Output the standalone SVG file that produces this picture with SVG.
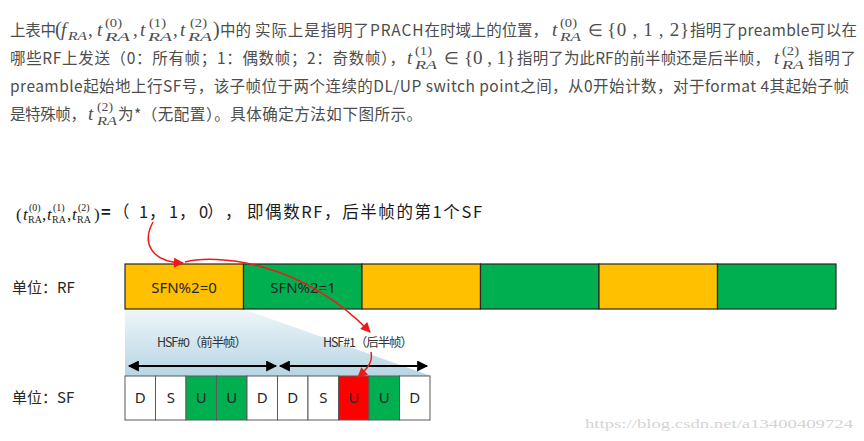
<svg xmlns="http://www.w3.org/2000/svg" width="864" height="441" viewBox="0 0 864 441">
<style>
.cn{font-family:"Noto Sans CJK SC","Noto Sans",sans-serif;font-size:15.5px;fill:#4d4d4d}
.mi{font-family:"Liberation Serif",serif;font-style:italic;fill:#4d4d4d}
.mr{font-family:"Liberation Serif",serif;fill:#4d4d4d}
.tm{font-family:"Liberation Serif",serif;fill:#1a1a1a}
.tmi{font-family:"Liberation Serif",serif;font-style:italic;fill:#1a1a1a}
.tc{font-family:"Noto Sans CJK SC","Noto Sans",sans-serif;font-size:16.5px;fill:#1a1a1a}
.lab{font-family:"Noto Sans CJK SC","Noto Sans",sans-serif;font-size:15px;fill:#262626}
.rf{stroke:#262626;stroke-width:1.2}
.sf{stroke:#5a5a5a;stroke-width:1}
.sft{font-family:"Noto Sans","Noto Sans CJK SC",sans-serif;font-size:15px;fill:#262626;text-anchor:middle}
.hsf{font-family:"Noto Sans CJK SC","Noto Sans",sans-serif;font-size:12.5px;fill:#333}
.red{fill:none;stroke:#f01818;stroke-width:1.5}
.blk{stroke:#000;stroke-width:2}
.y{fill:#FFC000}.g{fill:#00B050}.w{fill:#fff}.r{fill:#FF0000}
</style>
<defs>
<linearGradient id="sh" x1="0" y1="0" x2="0" y2="1">
<stop offset="0" stop-color="#eef6fa"/>
<stop offset="1" stop-color="#b7d5e3"/>
</linearGradient>
<marker id="ra" viewBox="0 0 10 10" refX="9" refY="5" markerWidth="12" markerHeight="10" markerUnits="userSpaceOnUse" orient="auto"><path d="M0,0 L10,5 L0,10 z" fill="#f01818"/></marker>
<marker id="ba" viewBox="0 0 10 10" refX="9" refY="5" markerWidth="13" markerHeight="11" markerUnits="userSpaceOnUse" orient="auto-start-reverse"><path d="M0,0 L10,5 L0,10 z" fill="#000"/></marker>
</defs>
<rect width="864" height="441" fill="#fff"/>

<g id="paragraph">
<text class="cn" x="10" y="36" textLength="46">上表中</text>
<text class="mr" x="55" y="36" font-size="20">(</text>
<text class="mi" x="61" y="36" font-size="19">f</text>
<text class="mi" x="68" y="40" font-size="13" textLength="19" lengthAdjust="spacingAndGlyphs">RA</text>
<text class="mr" x="88" y="36" font-size="19">,</text>
<text class="mi" x="97" y="36" font-size="19">t</text>
<text class="mr" x="105" y="27" font-size="12" textLength="17" lengthAdjust="spacingAndGlyphs">(0)</text>
<text class="mi" x="105" y="41" font-size="13" textLength="25" lengthAdjust="spacingAndGlyphs">RA</text>
<text class="mr" x="133" y="36" font-size="19">,</text>
<text class="mi" x="140" y="36" font-size="19">t</text>
<text class="mr" x="149" y="27" font-size="12" textLength="17" lengthAdjust="spacingAndGlyphs">(1)</text>
<text class="mi" x="148" y="41" font-size="13" textLength="24" lengthAdjust="spacingAndGlyphs">RA</text>
<text class="mr" x="173" y="36" font-size="19">,</text>
<text class="mi" x="180" y="36" font-size="19">t</text>
<text class="mr" x="190" y="27" font-size="12" textLength="17" lengthAdjust="spacingAndGlyphs">(2)</text>
<text class="mi" x="188" y="41" font-size="13" textLength="24" lengthAdjust="spacingAndGlyphs">RA</text>
<text class="mr" x="213" y="36" font-size="20">)</text>
<text class="cn" x="220" y="36" textLength="31">中的</text>
<text class="cn" x="255" y="36" textLength="185">实际上是指明了PRACH在</text>
<text class="cn" x="440" y="36" textLength="108">时域上的位置，</text>
<text class="mi" x="552" y="36" font-size="19">t</text>
<text class="mr" x="560" y="27" font-size="12" textLength="17" lengthAdjust="spacingAndGlyphs">(0)</text>
<text class="mi" x="560" y="41" font-size="13" textLength="21" lengthAdjust="spacingAndGlyphs">RA</text>
<text class="mr" x="588" y="36" font-size="17">∈</text>
<text class="mr" x="607" y="36" font-size="19" textLength="82">{0 , 1 , 2}</text>
<text class="cn" x="690" y="36" textLength="167">指明了preamble可以在</text>

<text class="cn" x="10" y="64" textLength="395">哪些RF上发送（0：所有帧；1：偶数帧；2：奇数帧），</text>
<text class="mi" x="407" y="64" font-size="19">t</text>
<text class="mr" x="415" y="55" font-size="12" textLength="17" lengthAdjust="spacingAndGlyphs">(1)</text>
<text class="mi" x="415" y="69" font-size="13" textLength="22" lengthAdjust="spacingAndGlyphs">RA</text>
<text class="mr" x="444" y="64" font-size="17">∈</text>
<text class="mr" x="464" y="64" font-size="19" textLength="51">{0 , 1}</text>
<text class="cn" x="517" y="64" textLength="253">指明了为此RF的前半帧还是后半帧，</text>
<text class="mi" x="774" y="64" font-size="19">t</text>
<text class="mr" x="782" y="55" font-size="12" textLength="17" lengthAdjust="spacingAndGlyphs">(2)</text>
<text class="mi" x="782" y="69" font-size="13" textLength="22" lengthAdjust="spacingAndGlyphs">RA</text>
<text class="cn" x="808" y="64" textLength="48">指明了</text>

<text class="cn" x="10" y="92" textLength="839">preamble起始地上行SF号，该子帧位于两个连续的DL/UP switch point之间，从0开始计数，对于format 4其起始子帧</text>

<text class="cn" x="10" y="120" textLength="76">是特殊帧，</text>
<text class="mi" x="88" y="120" font-size="19">t</text>
<text class="mr" x="97" y="111" font-size="12" textLength="16" lengthAdjust="spacingAndGlyphs">(2)</text>
<text class="mi" x="97" y="125" font-size="13" textLength="20" lengthAdjust="spacingAndGlyphs">RA</text>
<text class="cn" x="118" y="120" textLength="304">为*（无配置）。具体确定方法如下图所示。</text>
</g>

<g id="title">
<text class="tm" x="16" y="220" font-size="17">(</text>
<text class="tmi" x="23" y="220" font-size="17">t</text>
<text class="tm" x="29" y="211" font-size="10">(0)</text>
<text class="tm" x="28" y="223" font-size="10">RA</text>
<text class="tm" x="42" y="220" font-size="17">,</text>
<text class="tmi" x="47" y="220" font-size="17">t</text>
<text class="tm" x="53" y="211" font-size="10">(1)</text>
<text class="tm" x="52" y="223" font-size="10">RA</text>
<text class="tm" x="67" y="220" font-size="17">,</text>
<text class="tmi" x="72" y="220" font-size="17">t</text>
<text class="tm" x="78" y="211" font-size="10">(2)</text>
<text class="tm" x="77" y="223" font-size="10">RA</text>
<text class="tm" x="94" y="220" font-size="17">)</text>
<text class="tc" x="101" y="218" font-weight="bold">=</text>
<text class="tc" y="218"><tspan x="113">（</tspan><tspan x="139">1</tspan><tspan x="149">，</tspan><tspan x="169">1</tspan><tspan x="179">，</tspan><tspan x="199">0</tspan><tspan x="207">）</tspan><tspan x="225">，</tspan></text>
<text class="tc" x="247" y="218" textLength="235">即偶数RF，后半帧的第1个SF</text>
</g>

<g id="unit-labels">
<text class="lab" x="12" y="293">单位：RF</text>
<text class="lab" x="12" y="403">单位：SF</text>
</g>

<polygon id="half-frame-zoom" points="125,309 243.5,309 431,376 125,376" fill="url(#sh)"/>

<g id="rf-row">
<rect id="rf0" class="rf y" x="125" y="264" width="118.5" height="45"/>
<rect id="rf1" class="rf g" x="243.5" y="264" width="118.5" height="45"/>
<rect id="rf2" class="rf y" x="362" y="264" width="118.5" height="45"/>
<rect id="rf3" class="rf g" x="480.5" y="264" width="118.5" height="45"/>
<rect id="rf4" class="rf y" x="599" y="264" width="118.5" height="45"/>
<rect id="rf5" class="rf g" x="717.5" y="264" width="118.5" height="45"/>
<text class="sft" x="184" y="293">SFN%2=0</text>
<text class="sft" x="303" y="293">SFN%2=1</text>
</g>

<g id="hsf-labels">
<text class="hsf" x="157" y="347" textLength="90">HSF#0（前半帧）</text>
<text class="hsf" x="323" y="347" textLength="90">HSF#1（后半帧）</text>
</g>

<g id="sf-row">
<rect class="sf w" x="125" y="376" width="30.5" height="44"/>
<rect class="sf w" x="155.5" y="376" width="30.5" height="44"/>
<rect class="sf g" x="186" y="376" width="30.5" height="44"/>
<rect class="sf g" x="216.5" y="376" width="30.5" height="44"/>
<rect class="sf w" x="247" y="376" width="30.5" height="44"/>
<rect class="sf w" x="277.5" y="376" width="30.5" height="44"/>
<rect class="sf w" x="308" y="376" width="30.5" height="44"/>
<rect class="sf r" x="338.5" y="376" width="30.5" height="44"/>
<rect class="sf g" x="369" y="376" width="30.5" height="44"/>
<rect class="sf w" x="399.5" y="376" width="30.5" height="44"/>
<text class="sft" x="140.25" y="403">D</text>
<text class="sft" x="170.75" y="403">S</text>
<text class="sft" x="201.25" y="403">U</text>
<text class="sft" x="231.75" y="403">U</text>
<text class="sft" x="262.25" y="403">D</text>
<text class="sft" x="292.75" y="403">D</text>
<text class="sft" x="323.25" y="403">S</text>
<text class="sft" x="353.75" y="403">U</text>
<text class="sft" x="384.25" y="403">U</text>
<text class="sft" x="414.75" y="403">D</text>
</g>

<g id="connectors">
<line class="blk" x1="129" y1="366" x2="276" y2="366" marker-start="url(#ba)" marker-end="url(#ba)"/>
<line class="blk" x1="280" y1="366" x2="427" y2="366" marker-start="url(#ba)" marker-end="url(#ba)"/>
<path class="red" d="M153,222 C142,242 150,262 183,263" marker-end="url(#ra)"/>
<path class="red" d="M185,262 C215,254 300,260 370,332" marker-end="url(#ra)"/>
<path class="red" d="M371,352 C373,362 368,368 358,377" marker-end="url(#ra)"/>
</g>

<text id="watermark" x="585" y="428" font-family="Liberation Serif,serif" font-size="13" fill="#d4d4d4" textLength="268" lengthAdjust="spacingAndGlyphs">https://blog.csdn.net/a13400409724</text>
</svg>
